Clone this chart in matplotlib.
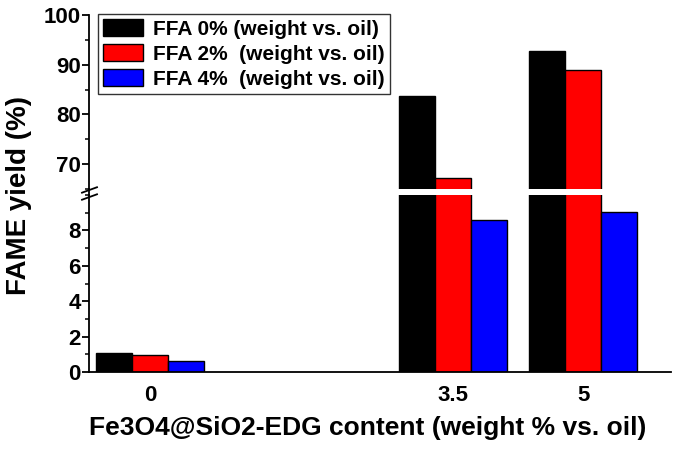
import matplotlib
matplotlib.use("Agg")
import matplotlib.pyplot as plt
from matplotlib.lines import Line2D
from matplotlib.ticker import MultipleLocator

plt.rcParams["font.family"] = ["Liberation Sans", "DejaVu Sans"]
plt.rcParams["font.weight"] = "bold"

# catalyst content (weight % vs. oil)
content = [0, 3.5, 5]
content_labels = ["0", "3.5", "5"]
series_names = ["FFA 0% (weight vs. oil)", "FFA 2%  (weight vs. oil)", "FFA 4%  (weight vs. oil)"]
ffa0 = [1.08, 83.8, 92.7]
ffa2 = [0.97, 67.2, 89.0]
ffa4 = [0.60, 8.57, 9.05]
colors = ["#000000", "#ff0000", "#0000ff"]

fig = plt.figure(figsize=(6.85, 4.55), dpi=100)
ax_top = fig.add_axes([0.130, 0.5846, 0.8496, 0.3824])
ax_bot = fig.add_axes([0.130, 0.1824, 0.8496, 0.3890])

w = 0.416
offsets = [-w, 0, w]
for ax in (ax_top, ax_bot):
    for vals, off, c, name in zip([ffa0, ffa2, ffa4], offsets, colors, series_names):
        ax.bar([x + off for x in content], vals, width=w, color=c,
               edgecolor="black", linewidth=1.0, label=name)
    ax.set_xlim(-0.704, 6.016)
    ax.spines["top"].set_visible(False)
    ax.spines["right"].set_visible(False)
    ax.spines["left"].set_linewidth(1.3)
    ax.tick_params(axis="y", which="major", direction="out", length=5, width=1.3,
                   labelsize=16, pad=1)
    ax.tick_params(axis="y", which="minor", direction="out", length=3, width=1.1)
    for lab in ax.get_yticklabels():
        lab.set_fontweight("bold")

ax_top.set_ylim(65, 100)
ax_top.yaxis.set_minor_locator(MultipleLocator(5))
ax_top.set_yticks([70, 80, 90, 100])
ax_top.spines["bottom"].set_visible(False)
ax_top.tick_params(axis="x", bottom=False, labelbottom=False)

ax_bot.set_ylim(0, 10)
ax_bot.set_yticks([0, 2, 4, 6, 8])
ax_bot.yaxis.set_minor_locator(MultipleLocator(1))
ax_bot.spines["bottom"].set_linewidth(1.3)
ax_bot.set_xticks(content)
ax_bot.set_xticklabels(content_labels, fontsize=16, fontweight="bold")
ax_bot.tick_params(axis="x", length=0, pad=9)

# spine through the gap and the break marks
fig.add_artist(Line2D([0.130, 0.130], [0.5714, 0.5846], color="black", lw=1.3))
for yb in [0.5825, 0.5670]:
    fig.add_artist(Line2D([0.1197, 0.1416], [yb - 0.006, yb + 0.006], color="black", lw=1.3))

leg = ax_top.legend(loc="upper left", bbox_to_anchor=(0.0155, 1.008), fontsize=15,
                    frameon=True, fancybox=False, edgecolor="black",
                    handlelength=1.9, handleheight=0.9, borderpad=0.25,
                    labelspacing=0.25, handletextpad=0.5, borderaxespad=0.0)
leg.get_frame().set_linewidth(1.0)
for t in leg.get_texts():
    t.set_fontweight("bold")

fig.text(0.028, 0.57, "FAME yield (%)", rotation=90, ha="center", va="center",
         fontsize=20, fontweight="bold")
fig.text(0.5365, 0.06, "Fe3O4@SiO2-EDG content (weight % vs. oil)", ha="center",
         va="center", fontsize=19, fontweight="bold")

fig.savefig("out.png", dpi=100)
